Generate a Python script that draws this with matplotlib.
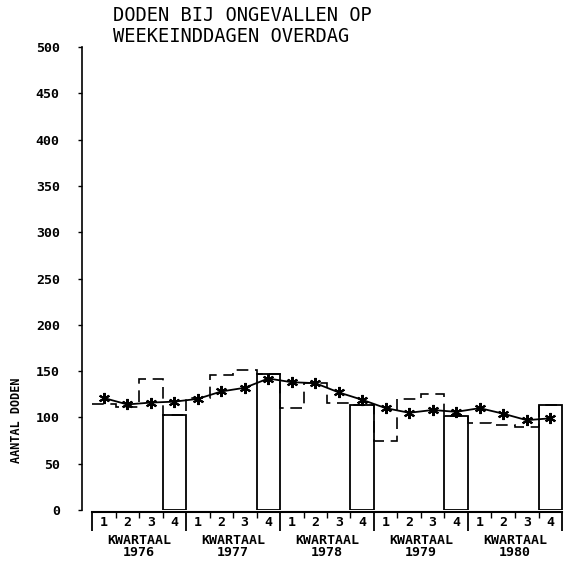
import matplotlib
matplotlib.use("Agg")
import matplotlib.pyplot as plt
import numpy as np

years = ["1976", "1977", "1978", "1979", "1980"]
quarter_labels = ["1", "2", "3", "4"]
actual = [115, 111, 141, 103,
          121, 146, 151, 147,
          110, 137, 116, 113,
          74, 120, 125, 102,
          94, 92, 90, 113]
trend = [121, 114, 116, 117,
         120, 128, 132, 142,
         138, 137, 127, 119,
         110, 105, 108, 106,
         110, 104, 97, 99]
y_ticks = [0, 50, 100, 150, 200, 250, 300, 350, 400, 450, 500]
title = "DODEN BIJ ONGEVALLEN OP\nWEEKEINDDAGEN OVERDAG"
y_label = "AANTAL DODEN"
year_word = "KWARTAAL"

FONT = "DejaVu Sans Mono"
W, H = 567, 562
fig = plt.figure(figsize=(W / 100, H / 100), dpi=100)
ax_left = 82 / W
ax_right = 563 / W
ax_bottom = (H - 510) / H
ax_top = (H - 47) / H
ax = fig.add_axes([ax_left, ax_bottom, ax_right - ax_left, ax_top - ax_bottom])
ax_h_px = 510 - 47

n = len(actual)
qpx = (562 - 92) / n
xmin = -(92 - 82) / qpx
ax.set_xlim(xmin, n + (563 - 562) / qpx)
ax.set_ylim(0, 500)

edges = np.arange(n + 1)
ax.stairs(actual, edges, baseline=None, color="black", lw=1.2,
          linestyle=(0, (7, 4)))
# quarter 4 bars
q4_idx = [i for i in range(n) if i % 4 == 3]
ax.bar(q4_idx, [actual[i] for i in q4_idx], width=1.0,
       align="edge", facecolor="none", edgecolor="black", lw=1.3)
# trend
xc = np.arange(n) + 0.5
ax.plot(xc, trend, color="black", lw=1.3, marker=(6, 2, 0), ms=8, mew=1.5)

# spines
for s in ["top", "right"]:
    ax.spines[s].set_visible(False)
ax.spines["left"].set_bounds(0, 500)
ax.spines["left"].set_position(("data", xmin))
ax.spines["left"].set_linewidth(1.2)
ax.spines["bottom"].set_bounds(0, n)
ax.spines["bottom"].set_position(("data", -2))
ax.spines["bottom"].set_linewidth(1.5)

ax.set_yticks(y_ticks)
ax.set_yticklabels([str(v) for v in y_ticks], fontfamily=FONT,
                   fontsize=9.5, fontweight="bold")
ax.tick_params(axis="y", direction="out", length=3, width=1, pad=13)

# x ticks: quarter boundaries (minor) and year boundaries (major)
ax.set_xticks(np.arange(0, n + 1, 4))
ax.set_xticklabels([])
ax.tick_params(axis="x", which="major", direction="out", length=14, width=1.3)
ax.set_xticks([i for i in range(n + 1) if i % 4 != 0], minor=True)
ax.tick_params(axis="x", which="minor", direction="out", length=4, width=1)

trans = ax.get_xaxis_transform()
for i in range(n):
    ax.text(i + 0.5, -12 / ax_h_px, quarter_labels[i % 4], transform=trans,
            ha="center", va="center", fontfamily=FONT, fontsize=9.5,
            fontweight="bold")
for k, yr in enumerate(years):
    ax.text(4 * k + 2, -30 / ax_h_px, year_word, transform=trans, ha="center",
            va="center", fontfamily=FONT, fontsize=9.5, fontweight="bold")
    ax.text(4 * k + 2, -43 / ax_h_px, yr, transform=trans, ha="center",
            va="center", fontfamily=FONT, fontsize=9.5, fontweight="bold")

fig.text(113 / W, 1 - 6 / H, title, ha="left", va="top", fontfamily=FONT,
         fontsize=13.5, linespacing=1.1)
fig.text(17 / W, 1 - 420 / H, y_label, rotation=90, ha="center",
         va="center", fontfamily=FONT, fontsize=8.5, fontweight="bold")

fig.savefig("out.png", dpi=100, facecolor="white")
